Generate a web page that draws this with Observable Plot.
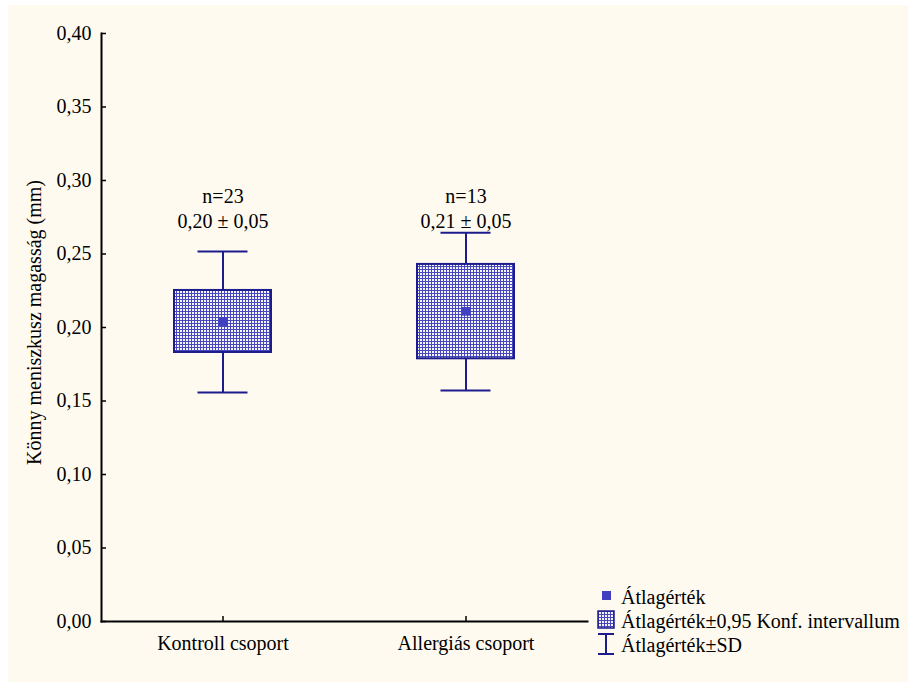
<!DOCTYPE html>
<html>
<head>
<meta charset="utf-8">
<script src="https://cdn.jsdelivr.net/npm/d3@7"></script>
<script src="https://cdn.jsdelivr.net/npm/@observablehq/plot@0.6"></script>
<style>
  html, body { margin: 0; padding: 0; background: #ffffff; }
  #wrap { position: relative; width: 908px; height: 682px; }
  #bg { position: absolute; left: 8px; top: 5px; right: 0; bottom: 0; background: #fffaf0; }
  #chart { position: absolute; left: 0; top: 0; }
  #chart svg, #chart svg text { font-family: "Liberation Serif", "Times New Roman", Times, serif !important; }
  #legend { position: absolute; left: 596px; top: 585px; font-family: "Liberation Serif", "Times New Roman", Times, serif; font-size: 20px; color: #000; }
  #legend .row { height: 24px; display: flex; align-items: center; white-space: nowrap; }
  #legend svg { width: 20px; height: 24px; flex: none; }
</style>
</head>
<body>
<div id="wrap">
  <div id="bg"></div>
  <div id="chart"></div>
  <div id="legend"></div>
</div>
<script>
// ---- data ----
const groups = ["Kontroll csoport", "Allergiás csoport"];
const nValues = [23, 13];
const means = [0.204, 0.211];
const ciLow = [0.183, 0.1787];
const ciHigh = [0.2252, 0.2429];
const sdLow = [0.1558, 0.1571];
const sdHigh = [0.2517, 0.2644];
const summaryLabels = ["0,20 \u00b1 0,05", "0,21 \u00b1 0,05"];
const yTicks = [0, 0.05, 0.10, 0.15, 0.20, 0.25, 0.30, 0.35, 0.40];
const yTitle = "Könny meniszkusz magasság (mm)";
const legendLabels = ["Átlagérték", "Átlagérték\u00b10,95 Konf. intervallum", "Átlagérték\u00b1SD"];

const rows = groups.map((g, i) => ({
  group: g, n: nValues[i], mean: means[i], ciLow: ciLow[i], ciHigh: ciHigh[i],
  sdLow: sdLow[i], sdHigh: sdHigh[i], label: summaryLabels[i]
}));

const navy = "#1c1c8c";
const meanColor = "#4040c0";
const fmt = d => d.toFixed(2).replace(".", ",");
const labelY = 0.29;
const serif = '"Liberation Serif", "Times New Roman", Times, serif';

const plot = Plot.plot({
  width: 908,
  height: 682,
  marginLeft: 101,
  marginRight: 321,
  marginTop: 33,
  marginBottom: 61,
  style: { background: "transparent", fontFamily: serif, fontSize: "20px", color: "#000" },
  x: { type: "band", domain: groups, padding: 0, label: null },
  y: { domain: [0, 0.4], label: null },
  marks: [
    Plot.axisY({ ticks: yTicks, tickFormat: fmt, tickSize: 0, tickPadding: 10, label: null, fontSize: 20, fontFamily: serif }),
    Plot.axisX({ tickSize: 0, tickPadding: 14, label: null, fontSize: 20, fontFamily: serif }),
    // inward tick marks
    Plot.ruleY(yTicks, { y: d => d, insetRight: 481, stroke: "#000", strokeWidth: 1.5 }),
    Plot.ruleX(groups, { x: d => d, y1: () => 0, y2: () => 0, insetTop: -5, stroke: "#000", strokeWidth: 1.5 }),
    Plot.frame({ anchor: "left", stroke: "#000", strokeWidth: 2 }),
    Plot.frame({ anchor: "bottom", stroke: "#000", strokeWidth: 2 }),
    // SD whiskers
    Plot.ruleX(rows, { x: "group", y1: "sdLow", y2: "sdHigh", stroke: navy, strokeWidth: 2 }),
    Plot.tickY(rows, { x: "group", y: "sdHigh", stroke: navy, strokeWidth: 2, insetLeft: 96.5, insetRight: 96.5 }),
    Plot.tickY(rows, { x: "group", y: "sdLow", stroke: navy, strokeWidth: 2, insetLeft: 96.5, insetRight: 96.5 }),
    // confidence box
    Plot.barY(rows, { x: "group", y1: "ciLow", y2: "ciHigh", fill: "url(#ciPattern)", stroke: navy, strokeWidth: 2, insetLeft: 73, insetRight: 73 }),
    // mean
    Plot.dot(rows, { x: "group", y: "mean", symbol: "square", r: 4.9, fill: meanColor, stroke: null }),
    // labels
    Plot.text(rows, { x: "group", y: () => labelY, text: d => "n=" + d.n, dy: 1, fontSize: 20, fill: "#000", fontFamily: serif }),
    Plot.text(rows, { x: "group", y: () => labelY, text: "label", dy: 26, fontSize: 20, fill: "#000", fontFamily: serif }),
    // y title
    Plot.text([yTitle], { frameAnchor: "left", textAnchor: "middle", text: d => d, rotate: -90, dx: -67, dy: -5, fontSize: 20, fill: "#000", fontFamily: serif })
  ]
});

// pattern definition for the confidence box
const ns = "http://www.w3.org/2000/svg";
const defs = document.createElementNS(ns, "defs");
defs.innerHTML = `<pattern id="ciPattern" patternUnits="userSpaceOnUse" width="3" height="3">
  <rect width="3" height="3" fill="#4848bc"/>
  <rect x="0" y="0" width="2" height="2" fill="#f4f4fc"/>
</pattern>`;
plot.insertBefore(defs, plot.firstChild);
document.getElementById("chart").appendChild(plot);

// legend
const legend = document.getElementById("legend");
const icons = [
  `<svg viewBox="0 0 20 24"><rect x="6" y="6" width="9" height="9" fill="${meanColor}"/></svg>`,
  `<svg viewBox="0 0 20 24"><defs><pattern id="lgPat" patternUnits="userSpaceOnUse" width="3" height="3"><rect width="3" height="3" fill="#4848bc"/><rect width="2" height="2" fill="#f4f4fc"/></pattern></defs><rect x="2" y="2" width="16" height="17" fill="url(#lgPat)" stroke="${navy}" stroke-width="1.5"/></svg>`,
  `<svg viewBox="0 0 20 24"><path d="M2,1H18M10,1V21M2,21H18" stroke="${navy}" stroke-width="2" fill="none"/></svg>`
];
legendLabels.forEach((t, i) => {
  const row = document.createElement("div");
  row.className = "row";
  row.innerHTML = icons[i] + `<span style="margin-left:5px">${t}</span>`;
  legend.appendChild(row);
});
</script>
</body>
</html>
